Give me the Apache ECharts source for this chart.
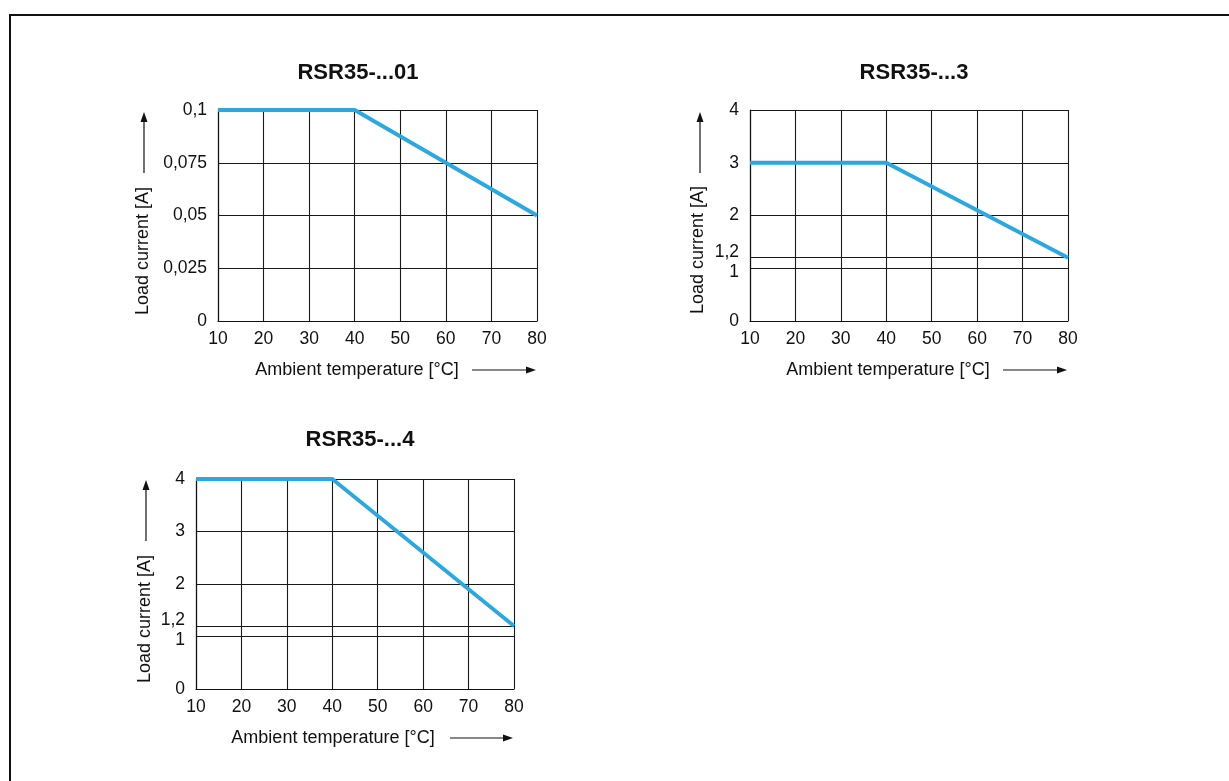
<!DOCTYPE html>
<html><head><meta charset="utf-8">
<script src="https://cdn.jsdelivr.net/npm/echarts@6/dist/echarts.min.js"></script>
<style>html,body{margin:0;padding:0;background:#fff}#c{width:1229px;height:781px}</style>
</head><body><div id="c"></div>
<script>
const titles = ['RSR35-...01', 'RSR35-...3', 'RSR35-...4'];
const xName = 'Ambient temperature [°C]';
const yName = 'Load current [A]';
const temps = [10, 40, 80];
const current01 = [0.1, 0.1, 0.05];
const current3 = [3, 3, 1.2];
const current4 = [4, 4, 1.2];
const yTicks01 = [0, 0.025, 0.05, 0.075, 0.1];
const yTicksA = [0, 1, 1.2, 2, 3, 4];

const FONT = 'Liberation Sans, Arial, sans-serif';
const BLUE = '#2aa8df';
const chart = echarts.init(document.getElementById('c'));

const grids = [
  {left: 218, top: 110, width: 319, height: 211},
  {left: 750, top: 110, width: 318, height: 211},
  {left: 196, top: 479, width: 318, height: 210}
];

function fmt(v) { return String(v).replace('.', ','); }

function xAxis(i) {
  return {
    type: 'value', gridIndex: i, min: 10, max: 80, interval: 10,
    axisLine: {lineStyle: {color: '#111', width: 1.2}},
    axisTick: {show: false},
    axisLabel: {color: '#111', fontSize: 17.5, fontFamily: FONT, margin: 9},
    splitLine: {show: true, lineStyle: {color: '#1a1a1a', width: 1.1}}
  };
}
function yAxisA(i, max) {
  return {
    type: 'value', gridIndex: i, min: 0, max: max,
    axisLine: {show: true, lineStyle: {color: '#111', width: 1.2}},
    axisTick: {show: false, customValues: yTicksA},
    axisLabel: {
      color: '#111', fontSize: 17.5, fontFamily: FONT, margin: 11, customValues: yTicksA,
      formatter: function (v) {
        if (Math.abs(v - 1.2) < 1e-9) return '{up|1,2}';
        if (v === 1) return '{dn|1}';
        return fmt(v);
      },
      rich: {
        up: {fontSize: 17.5, fontFamily: FONT, color: '#111', padding: [0, 0, 12, 0]},
        dn: {fontSize: 17.5, fontFamily: FONT, color: '#111', padding: [8, 0, 0, 0]}
      }
    },
    splitLine: {show: true, lineStyle: {color: '#1a1a1a', width: 1.1}}
  };
}

function pairs(ys) { return temps.map((t, k) => [t, ys[k]]); }

function yArrow(x, yText, xArrow) {
  return [
    {type: 'text', x: x, y: yText, rotation: Math.PI / 2,
     style: {text: yName, font: '18px ' + FONT, fill: '#111', align: 'center', verticalAlign: 'middle'}},
    {type: 'line', shape: {x1: xArrow, y1: 173, x2: xArrow, y2: 120}, style: {stroke: '#111', lineWidth: 1.2}},
    {type: 'polygon', shape: {points: [[xArrow, 112], [xArrow - 3.5, 122], [xArrow + 3.5, 122]]}, style: {fill: '#111'}}
  ];
}
function shiftY(arr, dy) {
  return arr.map(e => {
    const o = JSON.parse(JSON.stringify(e));
    if (o.type === 'text') o.y += dy;
    if (o.type === 'line') { o.shape.y1 += dy; o.shape.y2 += dy; }
    if (o.type === 'polygon') o.shape.points = o.shape.points.map(p => [p[0], p[1] + dy]);
    return o;
  });
}
function xArrow(cx, y, x1, x2) {
  return [
    {type: 'text', x: cx, y: y,
     style: {text: xName, font: '18px ' + FONT, fill: '#111', align: 'center', verticalAlign: 'middle'}},
    {type: 'line', shape: {x1: x1, y1: y, x2: x2 - 8, y2: y}, style: {stroke: '#111', lineWidth: 1.2}},
    {type: 'polygon', shape: {points: [[x2, y], [x2 - 10, y - 3.5], [x2 - 10, y + 3.5]]}, style: {fill: '#111'}}
  ];
}

const graphic = [
  {type: 'polyline', shape: {points: [[10, 781], [10, 15], [1229, 15]]}, style: {stroke: '#111', lineWidth: 2, fill: null}}
]
  .concat(yArrow(143, 251, 144))
  .concat(yArrow(698, 250, 700))
  .concat(shiftY(yArrow(145, 251, 146), 368))
  .concat(xArrow(357, 370, 472, 536))
  .concat(xArrow(888, 370, 1003, 1067))
  .concat(xArrow(333, 738, 450, 513));

const titleStyle = {fontSize: 22, fontWeight: 'bold', fontFamily: FONT, color: '#111'};
const option = {
  animation: false,
  backgroundColor: '#fff',
  title: [
    {text: titles[0], left: 353, top: 57, textAlign: 'center', textStyle: titleStyle},
    {text: titles[1], left: 909, top: 57, textAlign: 'center', textStyle: titleStyle},
    {text: titles[2], left: 355, top: 424, textAlign: 'center', textStyle: titleStyle}
  ],
  grid: grids,
  xAxis: [xAxis(0), xAxis(1), xAxis(2)],
  yAxis: [
    {
      type: 'value', gridIndex: 0, min: 0, max: 0.1, interval: 0.025,
      axisLine: {show: true, lineStyle: {color: '#111', width: 1.2}},
      axisTick: {show: false},
      axisLabel: {color: '#111', fontSize: 17.5, fontFamily: FONT, margin: 11, formatter: fmt},
      splitLine: {show: true, lineStyle: {color: '#1a1a1a', width: 1.1}}
    },
    yAxisA(1, 4),
    yAxisA(2, 4)
  ],
  series: [
    {type: 'line', xAxisIndex: 0, yAxisIndex: 0, data: pairs(current01), symbol: 'none', lineStyle: {color: BLUE, width: 3.8}},
    {type: 'line', xAxisIndex: 1, yAxisIndex: 1, data: pairs(current3), symbol: 'none', lineStyle: {color: BLUE, width: 3.8}},
    {type: 'line', xAxisIndex: 2, yAxisIndex: 2, data: pairs(current4), symbol: 'none', lineStyle: {color: BLUE, width: 3.8}}
  ],
  graphic: graphic
};
chart.setOption(option);
</script></body></html>
